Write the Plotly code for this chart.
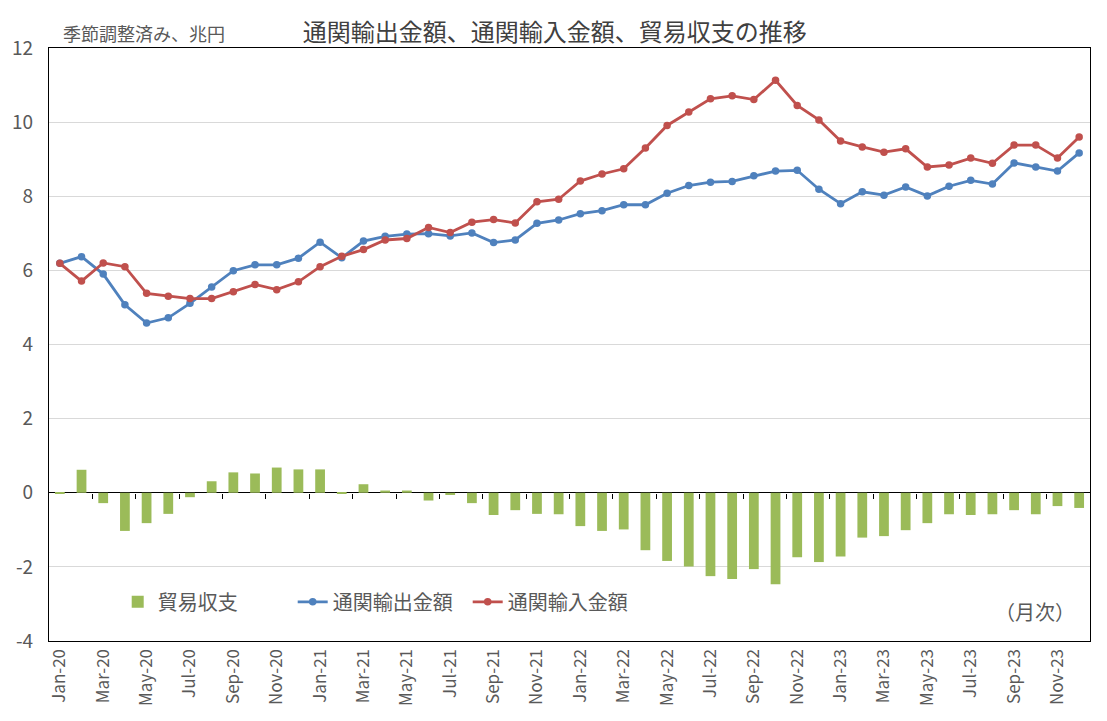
import plotly.graph_objects as go

# 月次ラベル（2020年1月〜2023年12月）
months = ["Jan", "Feb", "Mar", "Apr", "May", "Jun",
          "Jul", "Aug", "Sep", "Oct", "Nov", "Dec"]
years = ["20", "21", "22", "23"]
labels = [m + "-" + y for y in years for m in months]

# 通関輸出金額（季節調整済み、兆円）
exports = [6.19, 6.37, 5.90, 5.07, 4.58, 4.72, 5.11, 5.55, 5.99, 6.15, 6.15, 6.33,
           6.76, 6.34, 6.79, 6.92, 6.98, 6.99, 6.93, 7.01, 6.75, 6.82, 7.27, 7.36,
           7.53, 7.61, 7.77, 7.77, 8.08, 8.29, 8.38, 8.40, 8.55, 8.68, 8.70, 8.19,
           7.80, 8.12, 8.03, 8.25, 8.01, 8.27, 8.43, 8.33, 8.90, 8.79, 8.68, 9.17]

# 通関輸入金額
imports = [6.19, 5.71, 6.20, 6.10, 5.38, 5.30, 5.24, 5.24, 5.42, 5.62, 5.48, 5.69,
           6.10, 6.38, 6.56, 6.82, 6.86, 7.16, 7.02, 7.30, 7.37, 7.28, 7.85, 7.92,
           8.41, 8.60, 8.74, 9.30, 9.91, 10.27, 10.63, 10.71, 10.61, 11.13, 10.45, 10.06,
           9.49, 9.33, 9.19, 9.28, 8.79, 8.84, 9.03, 8.89, 9.38, 9.38, 9.03, 9.60]

# 貿易収支
balance = [-0.03, 0.62, -0.28, -1.03, -0.82, -0.57, -0.12, 0.31, 0.55, 0.52, 0.68, 0.63,
           0.63, -0.03, 0.23, 0.06, 0.06, -0.21, -0.06, -0.28, -0.60, -0.47, -0.57, -0.58,
           -0.90, -1.03, -0.99, -1.55, -1.84, -1.99, -2.25, -2.33, -2.06, -2.47, -1.74, -1.87,
           -1.72, -1.21, -1.17, -1.01, -0.82, -0.58, -0.60, -0.58, -0.47, -0.58, -0.36, -0.41]

# 縦軸の目盛り
y_ticks = [-4, -2, 0, 2, 4, 6, 8, 10, 12]
y_ticktext = ["-4", "-2", "0", "2", "4", "6", "8", "10", "12"]

font_jp = "Noto Sans CJK JP"
gray = "#595959"

fig = go.Figure()

fig.add_trace(go.Bar(
    x=labels, y=balance, name="貿易収支",
    marker=dict(color="#9BBB59", line=dict(width=0)),
))
fig.add_trace(go.Scatter(
    x=labels, y=exports, name="通関輸出金額", mode="lines+markers",
    line=dict(color="#4F81BD", width=2.8),
    marker=dict(size=7.5, color="#4F81BD"),
))
fig.add_trace(go.Scatter(
    x=labels, y=imports, name="通関輸入金額", mode="lines+markers",
    line=dict(color="#C0504D", width=2.8),
    marker=dict(size=7.5, color="#C0504D"),
))

# ゼロ線上の目盛り（2か月ごとの区切り）
fig.add_trace(go.Scatter(x=[0], y=[None], xaxis="x2", showlegend=False,
                         hoverinfo="skip"))

y_min, y_max = y_ticks[0], y_ticks[-1]

fig.update_layout(
    width=1107, height=721,
    margin=dict(l=41, r=25, t=40, b=88),
    paper_bgcolor="white", plot_bgcolor="white",
    font=dict(family=font_jp, color=gray),
    bargap=0.55,
    title=dict(text="通関輸出金額、通関輸入金額、貿易収支の推移",
               x=0.494, xanchor="center", y=0.966, yanchor="middle",
               font=dict(size=24, color="#404040", family=font_jp)),
    xaxis=dict(
        type="category", automargin=False,
        tickvals=labels[::2], ticktext=labels[::2],
        tickangle=-90, tickfont=dict(size=17, color=gray),
        showgrid=False, ticks="",
        showline=True, linecolor="black", linewidth=1.3, mirror=True,
        range=[-0.5, 47.5],
    ),
    xaxis2=dict(
        overlaying="x", anchor="free", position=(0 - y_min) / (y_max - y_min),
        range=[-0.5, 47.5], tickvals=[i + 1.5 for i in range(0, 46, 2)],
        ticks="outside", ticklen=5, tickcolor="black", tickwidth=1,
        showticklabels=False, showgrid=False, zeroline=False, showline=False,
    ),
    yaxis=dict(
        range=[y_min, y_max], tickvals=y_ticks, ticktext=y_ticktext,
        automargin=False,
        tickfont=dict(size=19, color=gray), ticklabelstandoff=11,
        showgrid=True, gridcolor="#D9D9D9", gridwidth=1,
        zeroline=True, zerolinecolor="black", zerolinewidth=1.3,
        showline=True, linecolor="black", linewidth=1.3, mirror=True,
        ticks="",
    ),
    legend=dict(
        orientation="h", x=0.066, y=0.066, xanchor="left", yanchor="middle",
        font=dict(size=20, color=gray, family=font_jp),
        bgcolor="rgba(0,0,0,0)", itemwidth=30, entrywidth=130,
    ),
    annotations=[
        dict(text="季節調整済み、兆円", xref="paper", yref="paper",
             x=0.012, y=1.026, xanchor="left", yanchor="middle",
             showarrow=False, font=dict(size=18, color=gray, family=font_jp)),
        dict(text="（月次）", xref="paper", yref="paper",
             x=0.947, y=0.049, xanchor="center", yanchor="middle",
             showarrow=False, font=dict(size=20, color=gray, family=font_jp)),
    ],
)

fig.write_html("out.html")
